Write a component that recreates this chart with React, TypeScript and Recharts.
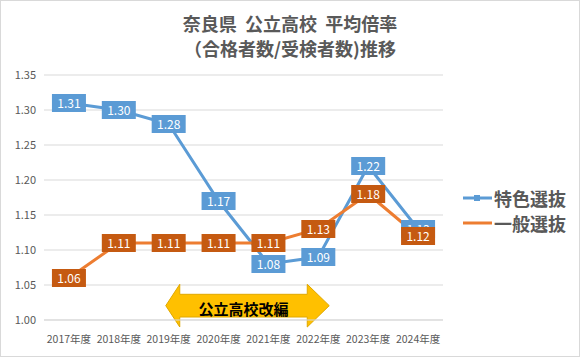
import React from "react";
import {CartesianGrid, LabelList, Line, LineChart, ReferenceArea, XAxis, YAxis} from "recharts";

const years = ["2017年度", "2018年度", "2019年度", "2020年度", "2021年度", "2022年度", "2023年度", "2024年度"];
const tokushoku = [1.31, 1.30, 1.28, 1.17, 1.08, 1.09, 1.22, 1.13];
const ippan = [1.06, 1.11, 1.11, 1.11, 1.11, 1.13, 1.18, 1.12];
const yTicks = [1.0, 1.05, 1.1, 1.15, 1.2, 1.25, 1.3, 1.35];

const data = years.map((y, i) => ({year: y, tokushoku: tokushoku[i], ippan: ippan[i]}));

const FONT = "'Noto Sans CJK JP', 'Noto Sans', sans-serif";
const BLUE = "#5B9BD5";
const ORANGE = "#ED7D31";
const ORANGE_BOX = "#C55A11";

const makeLabel = (fill: string) => (props: any) => {
  const {x, y, value} = props;
  const w = 34, h = 18;
  return (
    <g>
      <rect x={x - w / 2} y={y - h / 2} width={w} height={h} fill={fill}/>
      <text x={x} y={y + 4.5} textAnchor="middle" fill="#fff" fontSize={12} fontFamily={FONT}>
        {value.toFixed(2)}
      </text>
    </g>
  );
};

const Arrow = (props: any) => {
  const {x, y, width, height} = props;
  const left = x + 22;
  const right = x + width - 14;
  const top = y;
  const bottom = y + height;
  const mid = (top + bottom) / 2;
  const bx1 = left + 14;
  const bx2 = right - 22;
  const bt = top + 10;
  const bb = bottom - 10;
  const d = `M${left},${mid} L${bx1},${top} L${bx1},${bt} L${bx2},${bt} L${bx2},${top} L${right},${mid} L${bx2},${bottom} L${bx2},${bb} L${bx1},${bb} L${bx1},${bottom} Z`;
  return (
    <g>
      <path d={d} fill="#FFC000" stroke="#E0A800" strokeWidth={1}/>
      <text x={(left + right) / 2 - 4} y={mid + 9} textAnchor="middle" fontSize={15} fontWeight="bold" fill="#000" fontFamily={FONT}>
        公立高校改編
      </text>
    </g>
  );
};

const legendItems = [
  {name: "特色選抜", color: BLUE, marker: true},
  {name: "一般選抜", color: ORANGE, marker: false},
];

export default function App() {
  return (
    <div style={{position: "absolute", left: 0, top: 0, width: 578, height: 355, border: "1px solid #d9d9d9", background: "#fff"}}>
      <div style={{position: "absolute", top: 10, left: 0, width: 578, textAlign: "center", fontFamily: FONT, fontSize: 18, fontWeight: "bold", color: "#595959", lineHeight: "25px"}}>
        奈良県&nbsp;&nbsp;公立高校&nbsp;&nbsp;平均倍率<br/>（合格者数/受検者数)推移
      </div>
      <div style={{position: "absolute", left: 462, top: 184, fontFamily: FONT, fontSize: 18, color: "#595959", fontWeight: "bold"}}>
        {legendItems.map((s) => (
          <div key={s.name} style={{display: "flex", alignItems: "center", height: 25}}>
            <svg width={29} height={10} style={{marginRight: 2}}>
              <line x1={0} y1={5} x2={29} y2={5} stroke={s.color} strokeWidth={3}/>
              {s.marker && <rect x={11} y={2} width={6} height={6} fill={s.color}/>}
            </svg>
            <span>{s.name}</span>
          </div>
        ))}
      </div>
      <LineChart width={578} height={355} data={data} margin={{top: 74, right: 136, left: 0, bottom: 6}}>
        <CartesianGrid vertical={false} stroke="#d9d9d9"/>
        <XAxis dataKey="year" scale="band" axisLine={{stroke: "#d9d9d9"}} tickLine={false} interval={0}
               tick={{fontSize: 10.5, fill: "#595959", fontFamily: FONT}} height={30} tickMargin={10}/>
        <YAxis domain={[1.0, 1.35]} ticks={yTicks} axisLine={false} tickLine={false} width={43}
               tickFormatter={(v: number) => v.toFixed(2)}
               tick={{fontSize: 11, fill: "#595959", fontFamily: FONT}}/>
        <ReferenceArea x1="2019年度" x2="2022年度" y1={0.99} y2={1.051} shape={<Arrow/>} ifOverflow="visible"/>
        <Line dataKey="tokushoku" name="特色選抜" stroke={BLUE} strokeWidth={3} isAnimationActive={false}
              dot={{r: 3, fill: BLUE, stroke: BLUE, strokeWidth: 1}}>
          <LabelList dataKey="tokushoku" content={makeLabel(BLUE)}/>
        </Line>
        <Line dataKey="ippan" name="一般選抜" stroke={ORANGE} strokeWidth={3} isAnimationActive={false} dot={false}>
          <LabelList dataKey="ippan" content={makeLabel(ORANGE_BOX)}/>
        </Line>
      </LineChart>
    </div>
  );
}
